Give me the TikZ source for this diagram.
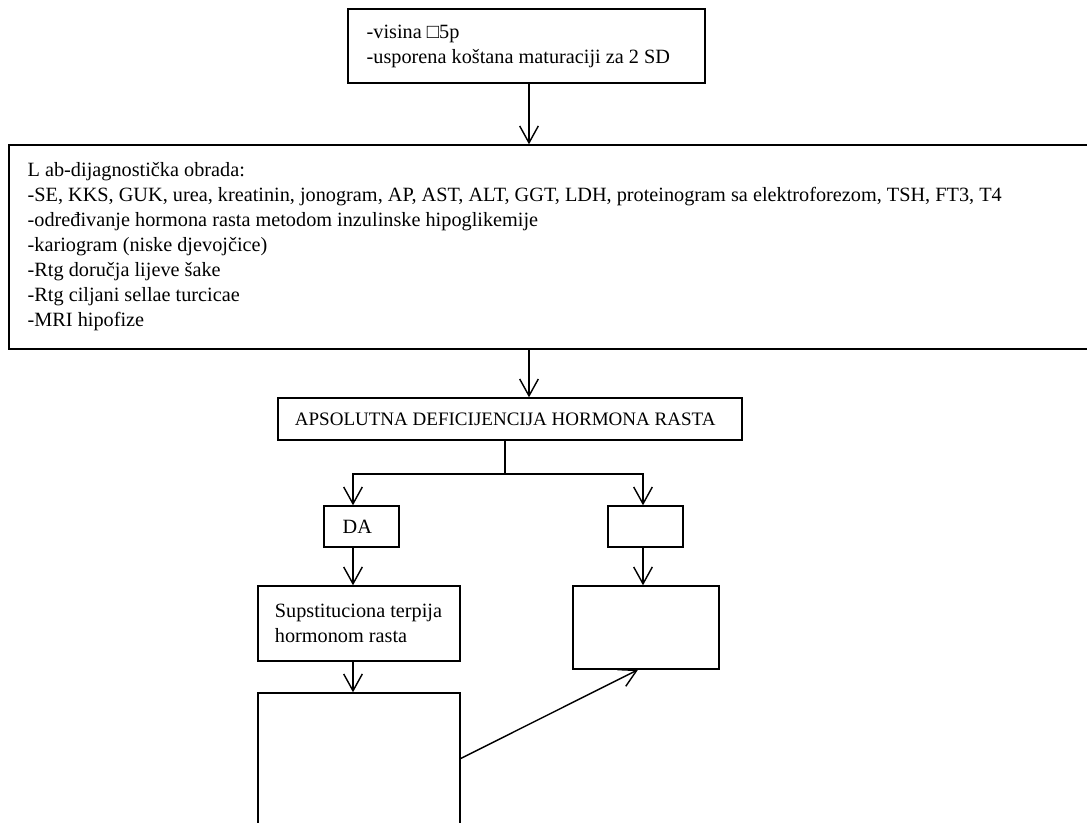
\documentclass[tikz,border=0pt]{standalone}
\usepackage{fontspec}
\setmainfont{Liberation Serif}
\usetikzlibrary{arrows.meta}
\tikzset{
  boxline/.style={draw=black, line width=0.8pt},
  flowbox/.style={boxline, rectangle, inner xsep=10.5pt, inner ysep=0pt,
    align=flush left, font=\fontsize{11.4pt}{14.06pt}\selectfont},
  flowarrow/.style={boxline, -{Straight Barb[length=9.5pt, width=10.5pt]}}
}

\begin{document}
\begin{tikzpicture}[x=0.5625pt,y=-0.5625pt]

  % --- page & clipping (bottom box and lab box run off the page) ---
  \useasboundingbox (0,0) rectangle (1087,822);
  \clip (0,0) rectangle (1087,822);

  % =========================
  %  BOXES
  % =========================

  \node[flowbox, minimum width=200.8pt, text width=179.8pt, minimum height=41.6pt]
    (vis) at (526.5,46) {-visina □5p\\-usporena koštana maturaciji za 2 SD};

  \node[flowbox, minimum width=613.7pt, text width=592.7pt, minimum height=114.75pt]
    (lab) at (554.5,247) {L ab-dijagnostička obrada:\\
      -SE, KKS, GUK, urea, kreatinin, jonogram, AP, AST, ALT, GGT, LDH, proteinogram sa elektroforezom, TSH, FT3, T4\\
      -određivanje hormona rasta metodom inzulinske hipoglikemije\\
      -kariogram (niske djevojčice)\\
      -Rtg doručja lijeve šake\\
      -Rtg ciljani sellae turcicae\\
      -MRI hipofize};

  \node[flowbox, inner xsep=9.5pt, minimum width=261pt, text width=242pt, minimum height=23.6pt,
    font=\fontsize{10.7pt}{14.06pt}\selectfont]
    (aps) at (510,419) {APSOLUTNA DEFICIJENCIJA HORMONA RASTA};

  \node[flowbox, minimum width=42.2pt, text width=21.2pt, minimum height=23.06pt]
    (da) at (361.5,526.5) {DA};
  \node[flowbox, minimum width=42.2pt, text width=21.2pt, minimum height=23.06pt]
    (ne) at (645.5,526.5) {};

  \node[flowbox, inner xsep=9.5pt, minimum width=113.6pt, text width=94.6pt, minimum height=42.2pt]
    (sup) at (359,623.5) {Supstituciona terpija\\hormonom rasta};
  \node[flowbox, minimum width=82.1pt, text width=61.1pt, minimum height=46.7pt]
    (rbox) at (646,627.5) {};
  \node[flowbox, minimum width=113.6pt, text width=92.6pt, minimum height=73.7pt]
    (bot) at (359,758.5) {};

  % =========================
  %  CONNECTORS
  % =========================

  \coordinate (spine) at (529,0);
  \coordinate (fork) at (505,474);
  \coordinate (yes) at (353,0);
  \coordinate (no) at (643,0);
  \coordinate (lnk) at (638,0);

  \draw[flowarrow] (spine |- vis.south) -- (spine |- lab.north);
  \draw[flowarrow] (spine |- lab.south) -- (spine |- aps.north);

  \draw[boxline] (fork |- aps.south) -- (fork);
  \draw[flowarrow] (fork) -| (yes |- da.north);
  \draw[flowarrow] (fork) -| (no |- ne.north);

  \draw[flowarrow] (yes |- da.south) -- (yes |- sup.north);
  \draw[flowarrow] (no |- ne.south) -- (no |- rbox.north);
  \draw[flowarrow] (yes |- sup.south) -- (yes |- bot.north);

  \draw[flowarrow] (bot.east) -- (lnk |- rbox.south);

\end{tikzpicture}
\end{document}
